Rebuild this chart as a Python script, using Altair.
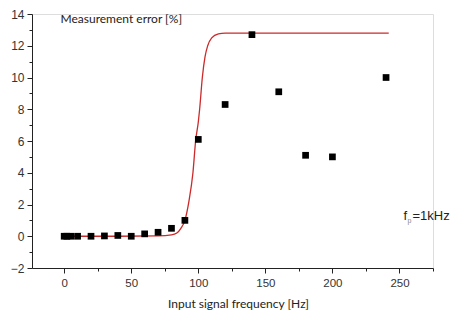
import altair as alt
import pandas as pd

# measured points
freq = [0, 2, 5, 10, 20, 30, 40, 50, 60, 70, 80, 90, 100, 120, 140, 160, 180, 200, 240]
err = [0.0, 0.0, 0.0, 0.0, 0.0, 0.02, 0.05, 0.0, 0.15, 0.25, 0.5, 1.0, 6.1, 8.3, 12.7, 9.1, 5.1, 5.0, 10.0]

# fitted curve
fit_x = [5, 40, 70, 80, 84, 87, 90, 93, 96, 98, 100, 101, 103, 105, 107, 110, 115, 120, 150, 200, 242]
fit_y = [0.0, 0.0, 0.02, 0.08, 0.2, 0.5, 1.0, 2.2, 4.0, 6.0, 7.2, 8.0, 10.0, 11.3, 12.0, 12.5, 12.75, 12.8, 12.8, 12.8, 12.8]

# annotation
ann_x = [253]
ann_y = [1.3]

pts = pd.DataFrame({"x": freq, "y": err})
fit = pd.DataFrame({"x": fit_x, "y": fit_y})
ann = pd.DataFrame({"x": ann_x, "y": ann_y})

xscale = alt.Scale(domain=[-24, 275], nice=False, zero=False)
yscale = alt.Scale(domain=[-2, 14], nice=False, zero=False)

xaxis = alt.Axis(
    values=list(range(0, 276, 25)),
    labelExpr="datum.value % 50 === 0 ? datum.label : ''",
    tickSize={"condition": {"test": "datum.value % 50 === 0", "value": 5}, "value": 3},
    grid=False, domainColor="#222", tickColor="#222", labelColor="#333",
    labelFont="Liberation Sans", labelFontSize=11.5, labelPadding=4,
    labelOverlap=False, labelFlush=False,
    title="Input signal frequency [Hz]", titleFont="Lato", titleFontSize=12,
    titleFontWeight="normal", titleColor="#222",
    titleAnchor="start", titleAlign="center", titleX=206, titleY=35, titleBaseline="middle",
)
yaxis = alt.Axis(
    values=list(range(-2, 15, 1)),
    labelExpr="datum.value % 2 === 0 ? datum.label : ''",
    tickSize={"condition": {"test": "datum.value % 2 === 0", "value": 5}, "value": 3},
    grid=False, domainColor="#222", tickColor="#222", labelColor="#333",
    labelFont="Liberation Sans", labelFontSize=12, labelPadding=3,
    labelOverlap=False, labelFlush=False,
    title="Measurement error [%]", titleFont="Lato", titleFontSize=12,
    titleFontWeight="normal", titleColor="#222",
    titleAngle=0, titleAlign="left", titleBaseline="middle", titleX=28, titleY=4,
)

X = alt.X("x:Q", scale=xscale, axis=xaxis)
Y = alt.Y("y:Q", scale=yscale, axis=yaxis)

line = alt.Chart(fit).mark_line(color="#cc2a2a", strokeWidth=1.3, interpolate="monotone").encode(x=X, y=Y)

points = alt.Chart(pts).mark_square(size=45, color="black", opacity=1).encode(x=X, y=Y)

f_txt = alt.Chart(ann).mark_text(text="f", font="Liberation Sans", fontSize=13, align="left", baseline="middle", color="#222").encode(x=X, y=Y)
p_txt = alt.Chart(ann).mark_text(text="p", font="Liberation Sans", fontSize=7, align="left", baseline="middle", color="#888", dx=4, dy=5).encode(x=X, y=Y)
k_txt = alt.Chart(ann).mark_text(text="=1kHz", font="Liberation Sans", fontSize=13, align="left", baseline="middle", color="#222", dx=9).encode(x=X, y=Y)

chart = alt.layer(line, points, f_txt, p_txt, k_txt).properties(
    width=401, height=254,
    autosize=alt.AutoSizeParams(type="none"),
    padding={"left": 24, "top": 6, "right": 17, "bottom": 46},
).configure_view(stroke=None).configure(background="white")

chart.save("out.html", embed_options={"renderer": "svg", "actions": False})
